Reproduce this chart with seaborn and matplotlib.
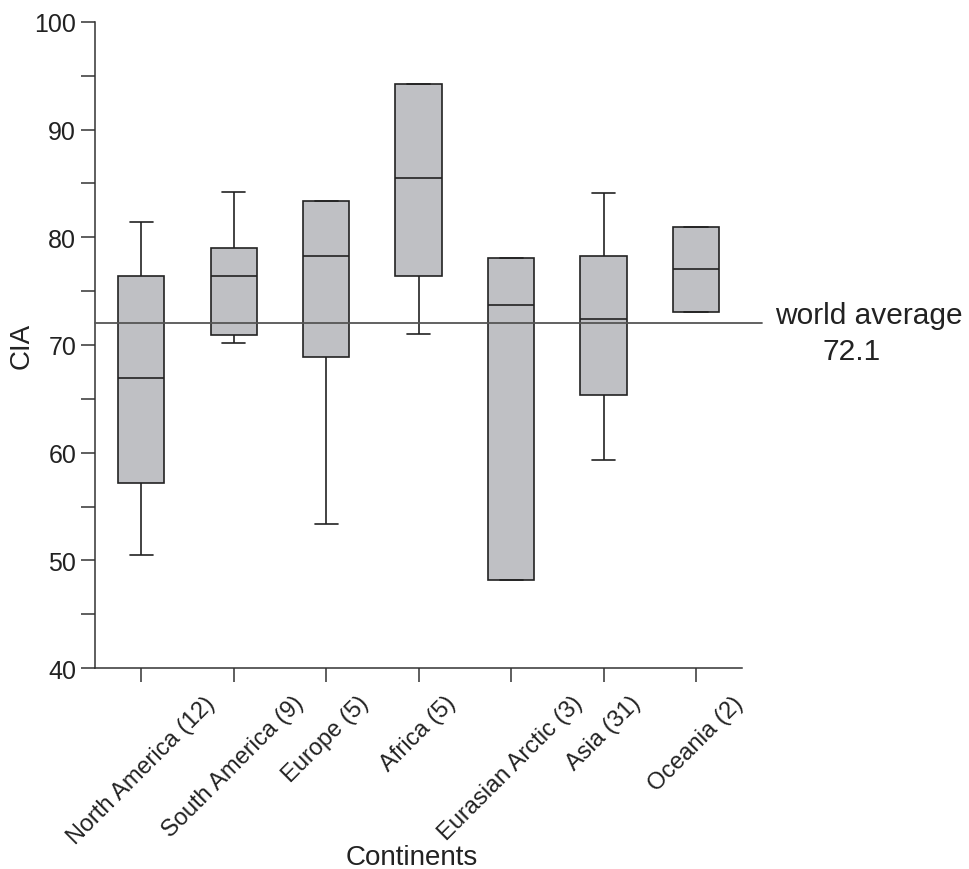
import numpy as np
import pandas as pd
import matplotlib
matplotlib.use("Agg")
import matplotlib.pyplot as plt
import seaborn as sns

# five-number summaries: min, Q1, median, Q3, max
continents = ["North America (12)", "South America (9)", "Europe (5)", "Africa (5)",
              "Eurasian Arctic (3)", "Asia (31)", "Oceania (2)"]
cia_min = [50.5, 70.15, 53.4, 71.05, 48.2, 59.3, 73.1]
cia_q1 = [57.15, 70.9, 68.85, 76.4, 48.2, 65.4, 73.1]
cia_med = [66.9, 76.4, 78.3, 85.5, 73.7, 72.45, 77.1]
cia_q3 = [76.4, 79.0, 83.4, 94.2, 78.1, 78.3, 81.0]
cia_max = [81.45, 84.2, 83.4, 94.2, 78.1, 84.1, 81.0]
world_avg = 72.0
world_avg_label = "72.1"

rows = []
for i, c in enumerate(continents):
    for v in (cia_min[i], cia_q1[i], cia_med[i], cia_q3[i], cia_max[i]):
        rows.append({"continent": c, "CIA": v})
df = pd.DataFrame(rows)

sns.set_style("ticks")
plt.rcParams['font.family'] = ['Liberation Sans', 'DejaVu Sans']

fig = plt.figure(figsize=(9.69, 8.7), dpi=100)
ax = fig.add_axes([0.098, 0.231, 0.668, 0.7426])

line_kw = dict(color="#222222", linewidth=1.2)
sns.boxplot(data=df, x="continent", y="CIA", order=continents, whis=(0, 100),
            width=0.5, color="#bfc0c4", saturation=1, ax=ax,
            boxprops=dict(facecolor="#bfc0c4", edgecolor="#222222", linewidth=1.2),
            medianprops=line_kw, whiskerprops=line_kw, capprops=line_kw,
            showfliers=False)

ax.axhline(world_avg, xmin=0, xmax=1.031, color="#555555", linewidth=1.3,
           clip_on=False, zorder=5)
ax.text(7.87, world_avg + 0.75, "world average", ha="center", va="center",
        fontsize=21.5, color="#222222", clip_on=False)
ax.text(7.68, world_avg - 2.55, world_avg_label, ha="center", va="center",
        fontsize=21.5, color="#222222", clip_on=False)

ax.set_xlim(-0.5, 6.5)
ax.set_ylim(40, 100)
ax.set_yticks(np.arange(40, 101, 10))
ax.set_yticks(np.arange(45, 100, 10), minor=True)
ax.tick_params(axis="both", which="both", length=10, width=1.1, color="#333333",
               labelsize=18, labelcolor="#222222")
ax.tick_params(axis="x", pad=7, labelsize=17)
ax.set_xticks(range(len(continents)))
ax.set_xticklabels(continents, rotation=45, ha="center")
ax.set_xlabel("Continents", fontsize=20, color="#222222")
ax.set_ylabel("CIA", fontsize=20, color="#222222")
ax.xaxis.set_label_coords(0.49, -0.272)
ax.yaxis.set_label_coords(-0.093, 0.5)
sns.despine(ax=ax)
for s in ("left", "bottom"):
    ax.spines[s].set_color("#333333")
    ax.spines[s].set_linewidth(1.1)

fig.savefig("out.png", dpi=100)
